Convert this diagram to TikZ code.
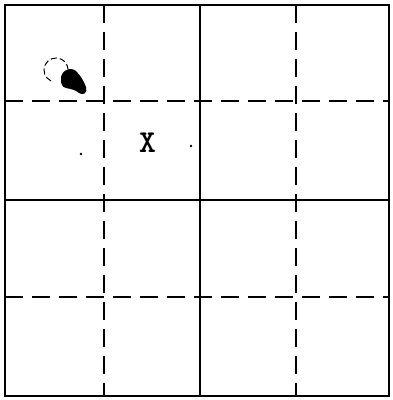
\documentclass[tikz,border=0pt]{standalone}
\usepackage{fontspec}
\begin{document}
\begin{tikzpicture}[x=1pt,y=-1pt,
  borderline/.style={line width=2.8pt},
  solidline/.style={line width=1.9pt},
  dashline/.style={line width=1.9pt,dash pattern=on 18pt off 9pt},
  arcline/.style={line width=1pt,dash pattern=on 6pt off 3pt}]
\useasboundingbox (0,0) rectangle (393,400);
% grid
\draw[dashline] (104,5) -- (104,396);
\draw[solidline] (200,5) -- (200,396);
\draw[dashline] (296,5) -- (296,396);
\draw[dashline] (5,101) -- (389,101);
\draw[solidline] (5,200) -- (389,200);
\draw[dashline] (5,297) -- (389,297);
% border
\draw[borderline] (5,5) rectangle (389,396);
% blob
\fill (61,80) .. controls (60,71) and (70,66) .. (76,71)
  .. controls (80,75) and (84,81) .. (86,87)
  .. controls (88,93) and (83,96) .. (79,93)
  .. controls (76,90) and (71,89) .. (66,88)
  .. controls (62,87) and (61,84) .. (61,80) -- cycle;
\draw[arcline] (56,70) ++(115:12) arc[start angle=115,end angle=355,radius=12];
% label and dots
\node[inner sep=0pt,scale=3.2] (xlabel) at (147.5,143) {\ttfamily\bfseries X};
\fill (81,154) circle (1.3);
\fill (191,146) circle (1.3);
\end{tikzpicture}
\end{document}
